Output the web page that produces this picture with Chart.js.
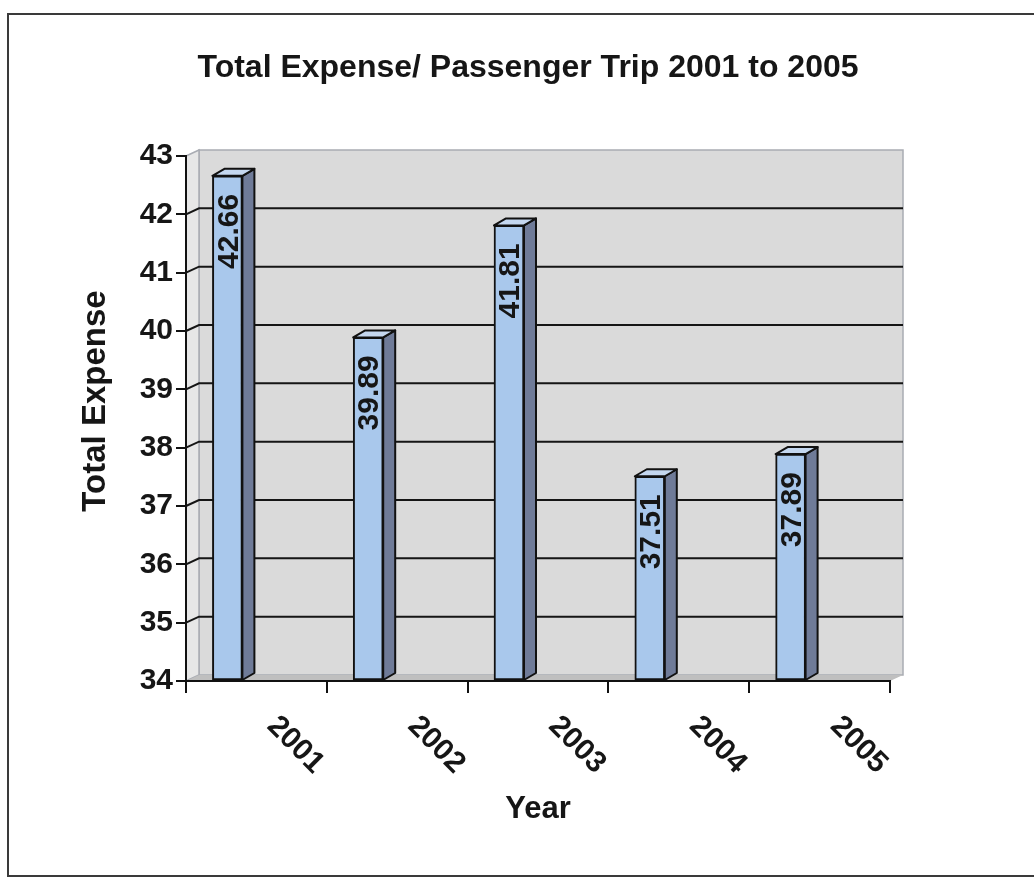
<!DOCTYPE html>
<html lang="en">
<head>
<meta charset="utf-8">
<title>Total Expense/ Passenger Trip 2001 to 2005</title>
<script src="https://cdn.jsdelivr.net/npm/chart.js@4.4.1/dist/chart.umd.min.js"></script>
<style>
  html, body { margin: 0; padding: 0; background: #fff; }
  #grafico { display: block; }
</style>
</head>
<body>
<canvas id="grafico" width="1034" height="880"></canvas>
<script>
// Dados do gráfico
const anos = ['2001', '2002', '2003', '2004', '2005'];
const despesaPorViagem = [42.66, 39.89, 41.81, 37.51, 37.89];
const ticksY = [34, 35, 36, 37, 38, 39, 40, 41, 42, 43];

const TITULO = 'Total Expense/ Passenger Trip 2001 to 2005';
const FONTE = 'Arial, "Liberation Sans", Helvetica, sans-serif';
const COR_TEXTO = '#161616';
const PROF_X = 13;        // profundidade da parede do fundo
const PROF_Y = -6;
const BARRA_PX = 12;      // profundidade das colunas
const BARRA_PY = -7;
const DESLOC_BARRA = -29; // colunas ficam à esquerda do centro da categoria

// Moldura, paredes, chão e linhas de grade (antes dos eixos)
const cenario3D = {
    id: 'cenario3D',
    beforeDraw(chart) {
        const { ctx, chartArea: a, scales: { y } } = chart;
        ctx.save();

        // moldura do objeto
        ctx.strokeStyle = '#3a3a3a';
        ctx.lineWidth = 2;
        ctx.strokeRect(8, 14, 1100, 862);

        // parede do fundo
        ctx.fillStyle = '#dadada';
        ctx.fillRect(a.left + PROF_X, a.top + PROF_Y, a.right - a.left, a.bottom - a.top);
        ctx.strokeStyle = '#a9acb3';
        ctx.lineWidth = 1.5;
        ctx.strokeRect(a.left + PROF_X, a.top + PROF_Y, a.right - a.left, a.bottom - a.top);

        // parede lateral esquerda
        ctx.fillStyle = '#e7e7e7';
        ctx.beginPath();
        ctx.moveTo(a.left, a.top);
        ctx.lineTo(a.left + PROF_X, a.top + PROF_Y);
        ctx.lineTo(a.left + PROF_X, a.bottom + PROF_Y);
        ctx.lineTo(a.left, a.bottom);
        ctx.closePath();
        ctx.fill();
        ctx.stroke();

        // chão
        ctx.fillStyle = '#bfbfbf';
        ctx.beginPath();
        ctx.moveTo(a.left, a.bottom);
        ctx.lineTo(a.left + PROF_X, a.bottom + PROF_Y);
        ctx.lineTo(a.right + PROF_X, a.bottom + PROF_Y);
        ctx.lineTo(a.right, a.bottom);
        ctx.closePath();
        ctx.fill();

        // linhas de grade na parede do fundo
        ctx.strokeStyle = '#151515';
        ctx.lineWidth = 2;
        ticksY.slice(1, -1).forEach(v => {
            const py = y.getPixelForValue(v);
            ctx.beginPath();
            ctx.moveTo(a.left, py);
            ctx.lineTo(a.left + PROF_X, py + PROF_Y);
            ctx.lineTo(a.right + PROF_X, py + PROF_Y);
            ctx.stroke();
        });

        ctx.restore();
    },
    beforeDatasetsDraw(chart) {
        chart.ctx.save();
        chart.ctx.translate(DESLOC_BARRA, 0);
    },
    afterDatasetsDraw(chart) {
        const { ctx } = chart;
        const meta = chart.getDatasetMeta(0);
        const valores = chart.data.datasets[0].data;

        meta.data.forEach((barra, i) => {
            const x1 = barra.x - barra.width / 2;
            const x2 = barra.x + barra.width / 2;
            const topo = barra.y;
            const base = barra.base;

            ctx.lineWidth = 2;
            ctx.strokeStyle = '#111';
            ctx.lineJoin = 'round';

            // face lateral
            ctx.fillStyle = '#6f7b98';
            ctx.beginPath();
            ctx.moveTo(x2, topo);
            ctx.lineTo(x2 + BARRA_PX, topo + BARRA_PY);
            ctx.lineTo(x2 + BARRA_PX, base + BARRA_PY);
            ctx.lineTo(x2, base);
            ctx.closePath();
            ctx.fill();
            ctx.stroke();

            // face de cima
            ctx.fillStyle = '#c4d7ef';
            ctx.beginPath();
            ctx.moveTo(x1, topo);
            ctx.lineTo(x1 + BARRA_PX, topo + BARRA_PY);
            ctx.lineTo(x2 + BARRA_PX, topo + BARRA_PY);
            ctx.lineTo(x2, topo);
            ctx.closePath();
            ctx.fill();
            ctx.stroke();

            // rótulo do valor, na vertical dentro da coluna
            ctx.save();
            ctx.translate(barra.x + 2, topo + 18);
            ctx.rotate(-Math.PI / 2);
            ctx.font = 'bold 30px ' + FONTE;
            ctx.fillStyle = COR_TEXTO;
            ctx.textAlign = 'right';
            ctx.textBaseline = 'middle';
            ctx.fillText(valores[i].toFixed(2), 0, 0);
            ctx.restore();
        });

        ctx.restore();
    },
    afterDraw(chart) {
        const { ctx, scales: { x } } = chart;
        ctx.save();
        ctx.fillStyle = COR_TEXTO;
        ctx.textAlign = 'center';
        ctx.textBaseline = 'middle';

        // título do gráfico
        ctx.font = 'bold 32px ' + FONTE;
        ctx.fillText(TITULO, 528, 68);

        // anos inclinados a 45 graus
        ctx.font = 'bold 30px ' + FONTE;
        anos.forEach((ano, i) => {
            ctx.save();
            ctx.translate(x.getPixelForValue(i) + 39, 745);
            ctx.rotate(Math.PI / 4);
            ctx.fillText(ano, 0, 0);
            ctx.restore();
        });

        // título do eixo Y
        ctx.font = 'bold 33px ' + FONTE;
        ctx.translate(96, 401);
        ctx.rotate(-Math.PI / 2);
        ctx.fillText('Total Expense', 0, 0);
        ctx.restore();
    }
};

function renderizarGrafico() {
    const ctx = document.getElementById('grafico').getContext('2d');

    new Chart(ctx, {
        type: 'bar',
        data: {
            labels: anos,
            datasets: [{
                label: 'Total Expense',
                data: despesaPorViagem,
                base: ticksY[0],
                backgroundColor: '#a9c8ec',
                borderColor: '#111',
                borderWidth: 2,
                borderSkipped: false,
                barThickness: 30
            }]
        },
        options: {
            responsive: false,
            animation: false,
            devicePixelRatio: 1,
            layout: { padding: { left: 0, right: 144, top: 156, bottom: 0 } },
            scales: {
                x: {
                    grid: { offset: true, drawOnChartArea: false, tickLength: 12, color: '#111', lineWidth: 2 },
                    border: { display: true, color: '#111', width: 2 },
                    ticks: { display: false },
                    title: {
                        display: true,
                        text: 'Year',
                        color: COR_TEXTO,
                        font: { family: FONTE, size: 31, weight: 'bold' },
                        padding: { top: 0, bottom: 52 }
                    },
                    afterFit(escala) { escala.height = 199; }
                },
                y: {
                    min: 34,
                    max: 43,
                    afterBuildTicks(escala) { escala.ticks = ticksY.map(v => ({ value: v })); },
                    ticks: {
                        color: COR_TEXTO,
                        padding: 3,
                        font: { family: FONTE, size: 30, weight: 'bold' }
                    },
                    grid: { drawOnChartArea: false, tickLength: 10, color: '#111', lineWidth: 2 },
                    border: { display: true, color: '#111', width: 2 },
                    afterFit(escala) { escala.width = 186; }
                }
            },
            plugins: {
                legend: { display: false },
                tooltip: { enabled: false },
                title: { display: false }
            }
        },
        plugins: [cenario3D]
    });
}

renderizarGrafico();
</script>
</body>
</html>
